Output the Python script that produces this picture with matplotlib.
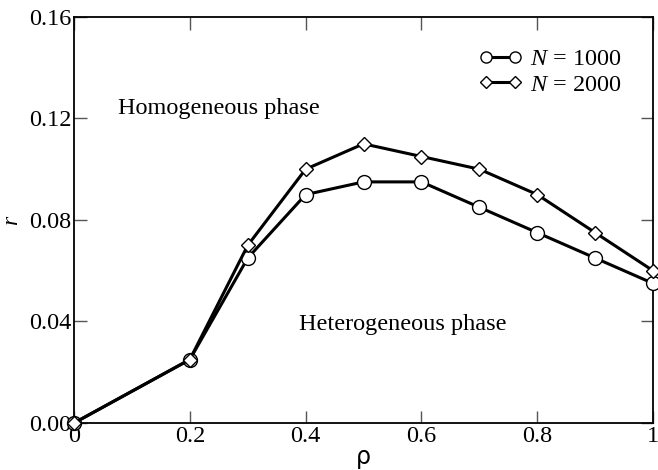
import matplotlib
matplotlib.use("Agg")
import matplotlib.pyplot as plt

rho = [0.0, 0.2, 0.3, 0.4, 0.5, 0.6, 0.7, 0.8, 0.9, 1.0]
r_1000 = [0.0, 0.025, 0.065, 0.090, 0.095, 0.095, 0.085, 0.075, 0.065, 0.055]
r_2000 = [0.0, 0.025, 0.070, 0.100, 0.110, 0.105, 0.100, 0.090, 0.075, 0.060]
xticks = [0, 0.2, 0.4, 0.6, 0.8, 1.0]
xticklabels = ["0", "0.2", "0.4", "0.6", "0.8", "1"]
yticks = [0.0, 0.04, 0.08, 0.12, 0.16]
yticklabels = ["0.00", "0.04", "0.08", "0.12", "0.16"]

plt.rcParams['font.family'] = ['Liberation Serif', 'DejaVu Serif']
plt.rcParams['mathtext.fontset'] = 'custom'
plt.rcParams['mathtext.it'] = 'Liberation Serif:italic'
plt.rcParams['mathtext.rm'] = 'Liberation Serif'

fig = plt.figure(figsize=(6.58, 4.70), dpi=100)
ax = fig.add_axes([0.1125, 0.1, 0.880, 0.864])

ax.plot(rho, r_1000, '-o', color='black', lw=2.2, ms=10, mfc='white', mec='black', mew=1.0,
        label=r'$N$ = 1000', clip_on=False, zorder=3)
ax.plot(rho, r_2000, '-D', color='black', lw=2.2, ms=7.5, mfc='white', mec='black', mew=1.0,
        label=r'$N$ = 2000', clip_on=False, zorder=4)

ax.set_xlim(0, 1)
ax.set_ylim(0, 0.16)
ax.set_xticks(xticks)
ax.set_xticklabels(xticklabels)
ax.set_yticks(yticks)
ax.set_yticklabels(yticklabels)
ax.tick_params(direction='in', length=9, width=1.0, labelsize=17.5, top=True, right=True,
               color='#555555', pad=2)
for s in ax.spines.values():
    s.set_linewidth(1.3)

ax.set_xlabel('ρ', fontsize=17, family='DejaVu Sans', labelpad=-1)
ax.set_ylabel(r'$r$', fontsize=17, labelpad=4)

ax.text(0.076, 0.124, 'Homogeneous phase', fontsize=17.5, va='center', ha='left')
ax.text(0.389, 0.039, 'Heterogeneous phase', fontsize=17.5, va='center', ha='left')

leg = ax.legend(loc='upper right', bbox_to_anchor=(0.975, 0.965), frameon=False, fontsize=17.5,
                numpoints=2, markerscale=0.8, handlelength=1.8, handletextpad=0.3,
                labelspacing=0.15, borderpad=0.2)

fig.savefig('out.png', dpi=100)
